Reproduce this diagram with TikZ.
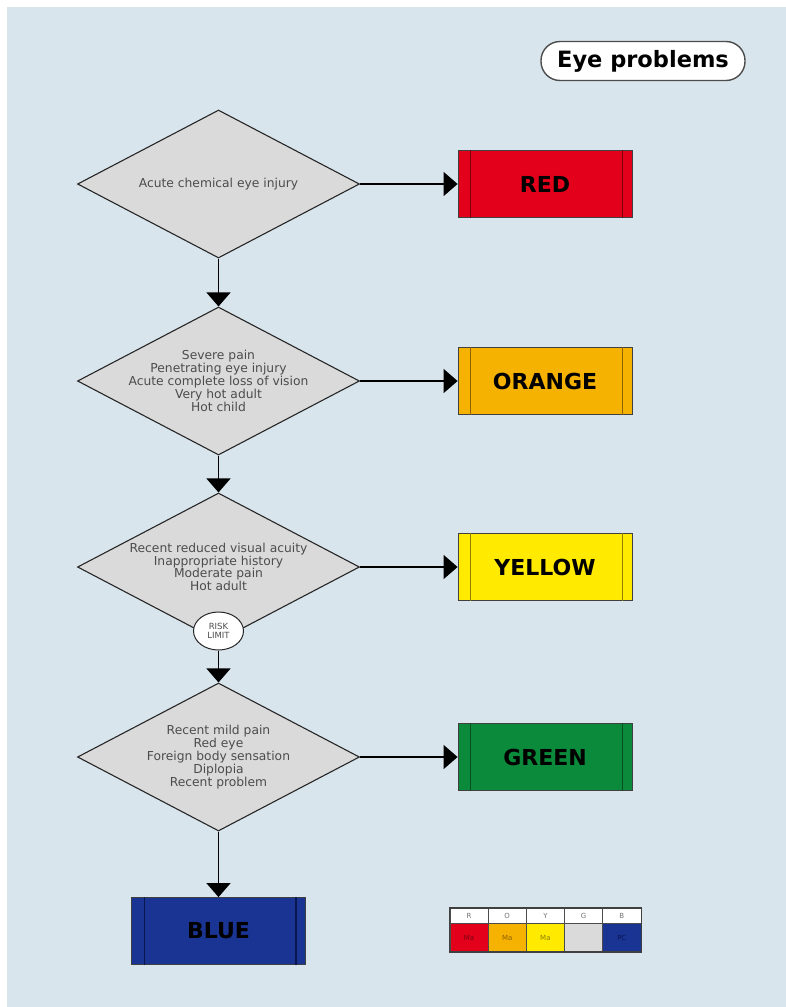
\documentclass[tikz,border=0pt]{standalone}
\usepackage{fontspec}
\setmainfont{DejaVu Sans}
\usetikzlibrary{positioning,shapes.geometric,arrows.meta}

\definecolor{bgblue}{HTML}{D9E5ED}
\definecolor{testgray}{HTML}{DADADA}
\definecolor{redt}{HTML}{E3001B}
\definecolor{redline}{HTML}{7A0010}
\definecolor{oranget}{HTML}{F6B200}
\definecolor{orangeline}{HTML}{8F6200}
\definecolor{yellowt}{HTML}{FFEA00}
\definecolor{yellowline}{HTML}{8F8000}
\definecolor{greent}{HTML}{0A8A3A}
\definecolor{greenline}{HTML}{044F22}
\definecolor{bluet}{HTML}{1A3494}
\definecolor{blueline}{HTML}{0A1650}

\tikzset{
	test/.style={diamond, draw=black!85, fill=testgray, line width=1.1pt, aspect=1.9, minimum width=282pt, minimum height=148pt, inner sep=0pt},
	testtext/.style={align=center, inner sep=0pt, text=black!70, font=\fontsize{12.3}{12.8}\selectfont},
	triage/.style={draw=black!75, line width=0.8pt, minimum width=174pt, minimum height=67pt, font=\fontsize{22}{24}\selectfont\bfseries},
	link/.style={line width=1.2pt, -{Triangle[width=24pt,length=14pt]}},
	key/.style={draw=black!70, line width=0.8pt, fill=white, minimum width=38.2pt, minimum height=15pt, inner sep=0pt, text=black!55, font=\fontsize{7}{8}\selectfont},
	cell/.style={draw=black!70, line width=0.8pt, minimum width=38.2pt, minimum height=28pt, inner sep=0pt, font=\fontsize{7}{8}\selectfont}
}

\begin{document}
\begin{tikzpicture}[x=1pt,y=-1pt]
	\fill[white] (0,0) rectangle (786,1007);
	\fill[bgblue] (7,7) rectangle (786,1007);

	\node[draw=black!70, fill=white, line width=1.4pt, rounded corners=19pt, minimum width=204pt, minimum height=39pt, font=\fontsize{22.5}{24}\selectfont\bfseries] (title) at (643,61) {Eye problems};

	% discriminators
	\node[test] (d1) at (218.5,184) {};
	\node[test] (d2) at (218.5,381) {};
	\node[test] (d3) at (218.5,567) {};
	\node[test] (d4) at (218.5,757) {};
	\node[testtext] (t1) at (d1) {Acute chemical eye injury};
	\node[testtext] (t2) at (d2) {Severe pain\\Penetrating eye injury\\Acute complete loss of vision\\Very hot adult\\Hot child};
	\node[testtext] (t3) at (d3) {Recent reduced visual acuity\\Inappropriate history\\Moderate pain\\Hot adult};
	\node[testtext] (t4) at (d4) {Recent mild pain\\Red eye\\Foreign body sensation\\Diplopia\\Recent problem};
	\node[ellipse, draw=black!85, fill=white, line width=1pt, minimum width=50pt, minimum height=38pt, inner sep=0pt, align=center, text=black!70, font=\fontsize{8.5}{9}\selectfont] (risk) at (218.5,631) {RISK\\LIMIT};

	% categories
	\node[triage, fill=redt] (red) at (545,184) {RED};
	\node[triage, fill=oranget] (orange) at (545,381) {ORANGE};
	\node[triage, fill=yellowt] (yellow) at (545,567) {YELLOW};
	\node[triage, fill=greent] (green) at (545,757) {GREEN};
	\node[triage, fill=bluet] (blue) at (218.5,931) {BLUE};

	\draw[redline, line width=1.2pt] ([xshift=13pt]red.north west) -- ([xshift=13pt]red.south west) ([xshift=-10pt]red.north east) -- ([xshift=-10pt]red.south east);
	\draw[orangeline, line width=1.2pt] ([xshift=13pt]orange.north west) -- ([xshift=13pt]orange.south west) ([xshift=-10pt]orange.north east) -- ([xshift=-10pt]orange.south east);
	\draw[yellowline, line width=1.2pt] ([xshift=13pt]yellow.north west) -- ([xshift=13pt]yellow.south west) ([xshift=-10pt]yellow.north east) -- ([xshift=-10pt]yellow.south east);
	\draw[greenline, line width=1.2pt] ([xshift=13pt]green.north west) -- ([xshift=13pt]green.south west) ([xshift=-10pt]green.north east) -- ([xshift=-10pt]green.south east);
	\draw[blueline, line width=1.2pt] ([xshift=13pt]blue.north west) -- ([xshift=13pt]blue.south west) ([xshift=-10pt]blue.north east) -- ([xshift=-10pt]blue.south east);

	% arrows
	\draw[link] (d1.south) -- (d2.north);
	\draw[link] (d2.south) -- (d3.north);
	\draw[link] (risk.south) -- (d4.north);
	\draw[link] (d4.south) -- (blue.north);
	\draw[link] (d1.east) -- (red.west);
	\draw[link] (d2.east) -- (orange.west);
	\draw[link] (d3.east) -- (yellow.west);
	\draw[link] (d4.east) -- (green.west);

	% key
	\node[key] (kr) at (469,916) {R};
	\node[key] (ko) at (507.2,916) {O};
	\node[key] (ky) at (545.4,916) {Y};
	\node[key] (kg) at (583.6,916) {G};
	\node[key] (kb) at (621.8,916) {B};
	\node[cell, fill=redt, text=redline] (cr) at (469,937.5) {Ma};
	\node[cell, fill=oranget, text=orangeline] (co) at (507.2,937.5) {Ma};
	\node[cell, fill=yellowt, text=yellowline] (cy) at (545.4,937.5) {Ma};
	\node[cell, fill=testgray] (cg) at (583.6,937.5) {};
	\node[cell, fill=bluet, text=blueline] (cb) at (621.8,937.5) {PC};
	\draw[black!75, line width=1.4pt] (kr.north west) rectangle (cb.south east);
\end{tikzpicture}
\end{document}
